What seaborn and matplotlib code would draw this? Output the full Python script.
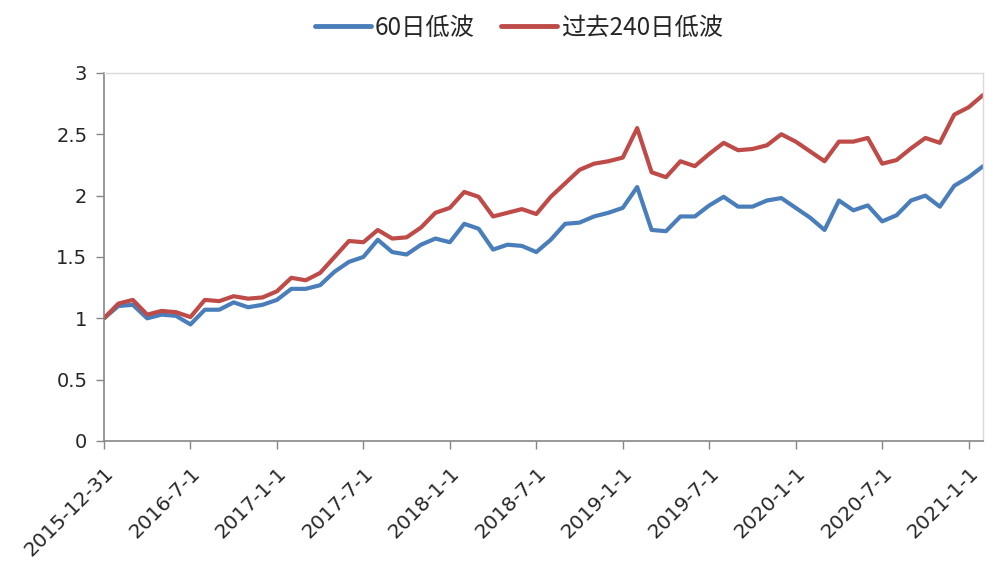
"""Low-volatility index comparison: 60-day vs trailing 240-day."""

import matplotlib
matplotlib.use("Agg")
import matplotlib.pyplot as plt
import pandas as pd
import seaborn as sns

# month-end observations, Dec 2015 .. Jan 2021
low_vol_60 = [
    1.00, 1.10, 1.11, 1.00, 1.03, 1.02, 0.95, 1.07, 1.07, 1.13,
    1.09, 1.11, 1.15, 1.24, 1.24, 1.27, 1.38, 1.46, 1.50, 1.64,
    1.54, 1.52, 1.60, 1.65, 1.62, 1.77, 1.73, 1.56, 1.60, 1.59,
    1.54, 1.64, 1.77, 1.78, 1.83, 1.86, 1.90, 2.07, 1.72, 1.71,
    1.83, 1.83, 1.92, 1.99, 1.91, 1.91, 1.96, 1.98, 1.90, 1.82,
    1.72, 1.96, 1.88, 1.92, 1.79, 1.84, 1.96, 2.00, 1.91, 2.08,
    2.15, 2.24,
]
low_vol_240 = [
    1.00, 1.12, 1.15, 1.03, 1.06, 1.05, 1.01, 1.15, 1.14, 1.18,
    1.16, 1.17, 1.22, 1.33, 1.31, 1.37, 1.50, 1.63, 1.62, 1.72,
    1.65, 1.66, 1.74, 1.86, 1.90, 2.03, 1.99, 1.83, 1.86, 1.89,
    1.85, 1.99, 2.10, 2.21, 2.26, 2.28, 2.31, 2.55, 2.19, 2.15,
    2.28, 2.24, 2.34, 2.43, 2.37, 2.38, 2.41, 2.50, 2.44, 2.36,
    2.28, 2.44, 2.44, 2.47, 2.26, 2.29, 2.385, 2.47, 2.43, 2.66,
    2.72, 2.82,
]
series_names = ["60日低波", "过去240日低波"]
tick_labels = [
    "2015-12-31", "2016-7-1", "2017-1-1", "2017-7-1", "2018-1-1", "2018-7-1",
    "2019-1-1", "2019-7-1", "2020-1-1", "2020-7-1", "2021-1-1",
]

sns.set_style("white")
plt.rcParams["font.family"] = ["DejaVu Sans", "Noto Sans CJK SC"]

months = list(range(len(low_vol_60)))
frame = pd.DataFrame({
    "month": months * 2,
    "value": low_vol_60 + low_vol_240,
    "series": [series_names[0]] * len(months) + [series_names[1]] * len(months),
})

fig = plt.figure(figsize=(9.93, 5.88), dpi=100)
ax = fig.add_axes([0.1047, 0.25, 0.8853, 0.626])

sns.lineplot(
    data=frame, x="month", y="value", hue="series",
    palette=["#4A7EBB", "#BE4B48"], linewidth=3.0, ax=ax,
)

ax.set_xlim(0, len(months) - 1)
ax.set_ylim(0, 3)
ax.set_yticks([0, 0.5, 1, 1.5, 2, 2.5, 3])
ax.set_yticklabels(["0", "0.5", "1", "1.5", "2", "2.5", "3"], fontsize=14)
ax.set_xticks(range(0, len(months), 6))
ax.set_xticklabels(tick_labels, rotation=45, ha="right", rotation_mode="anchor", fontsize=14.5)
ax.set_xlabel("")
ax.set_ylabel("")

for side in ("top", "right"):
    ax.spines[side].set_color("#D9D9D9")
    ax.spines[side].set_linewidth(1.0)
for side in ("left", "bottom"):
    ax.spines[side].set_color("#868686")
    ax.spines[side].set_linewidth(1.2)
ax.tick_params(axis="both", direction="out", length=6, width=1.0, color="#868686",
               left=True, bottom=True, pad=6)
ax.tick_params(axis="x", pad=10)

handles, labels = ax.get_legend_handles_labels()
ax.get_legend().remove()
leg = fig.legend(
    handles, labels, loc="center", bbox_to_anchor=(519 / 993, 1 - 28 / 588), ncol=2,
    frameon=False, handlelength=2.3, columnspacing=1.1, handletextpad=0.15,
    prop={"family": ["Noto Sans CJK SC", "DejaVu Sans"], "size": 17.5},
)
for line in leg.get_lines():
    line.set_linewidth(3.5)

fig.savefig("out.png", dpi=100)
